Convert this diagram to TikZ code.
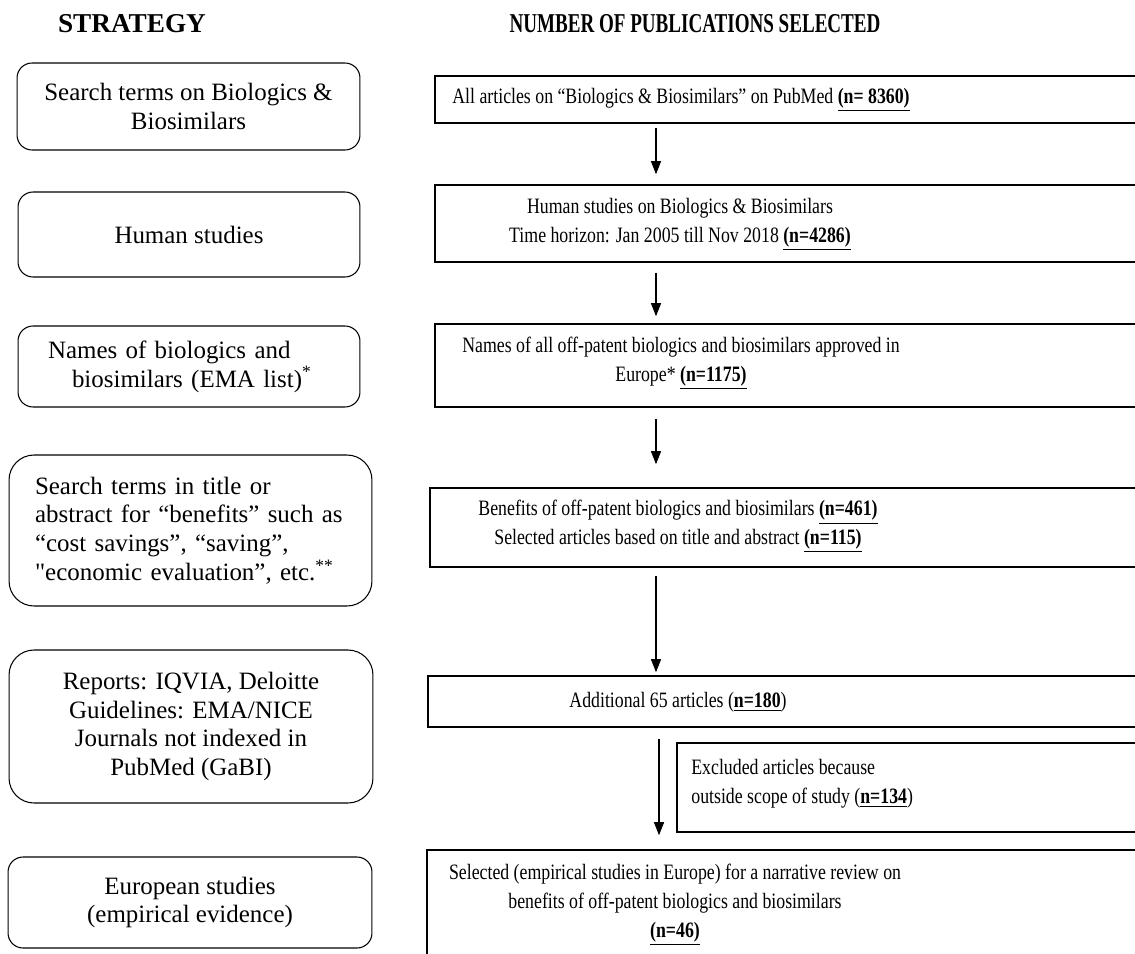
\documentclass[tikz,border=0pt]{standalone}
\usepackage{fontspec}
\setmainfont{Liberation Serif}[Ligatures=TeXOff]
\newfontfamily\narrowfont[FakeStretch=0.81]{Liberation Serif}
\newfontfamily\headfont[FakeStretch=0.70]{Liberation Serif}
\usetikzlibrary{arrows.meta}
\tikzstyle{strategy} = [rectangle, rounded corners=0.3cm, draw=black, line width=0.6pt, align=center, inner sep=0pt, font=\fontsize{14.2}{16.4}\selectfont]
\tikzstyle{selection} = [rectangle, draw=black, line width=0.9pt, inner sep=0pt]
\tikzstyle{count} = [align=center, inner sep=0pt, font=\narrowfont\fontsize{12.5}{16.4}\selectfont]
\tikzstyle{heading} = [font=\bfseries\fontsize{15.5}{18}\selectfont]
\tikzstyle{arrow} = [line width=0.6pt, -{Triangle[length=0.26cm, width=0.2cm]}]
\newcommand{\nsel}[1]{\underline{\textbf{#1}}}

\begin{document}
\begin{tikzpicture}[x=0.02cm, y=-0.02cm]
    \useasboundingbox (0,0) rectangle (1135,953);
    \clip (0,0) rectangle (1135,953);

    % Headings
    \node (strathead) [heading] at (132,24) {STRATEGY};
    \node (numhead) [heading, font=\headfont\bfseries\fontsize{15.5}{18}\selectfont] at (695,24) {NUMBER OF PUBLICATIONS SELECTED};

    % Nodes
    \node (terms) [strategy, minimum width=6.86cm, minimum height=1.74cm] at (188.5,106.5) {Search terms on Biologics \&\\Biosimilars};
    \node (human) [strategy, minimum width=6.84cm, minimum height=1.70cm] at (189,234.5) {Human studies};
    \node (names) [strategy, minimum width=6.84cm, minimum height=1.62cm, inner xsep=0.6cm, text width=5.64cm, align=left] at (189,366.5) {Names of biologics and\\\hspace*{0.48cm}biosimilars (EMA list)\textsuperscript{*}};
    \node (benefits) [strategy, rounded corners=0.5cm, minimum width=7.26cm, minimum height=3.02cm, inner xsep=0.52cm, text width=6.22cm, align=left] at (190.5,530.5) {Search terms in title or\\abstract for “benefits” such as\\“cost savings”, “saving”,\\"economic evaluation”, etc.\textsuperscript{**}};
    \node (reports) [strategy, rounded corners=0.5cm, minimum width=7.28cm, minimum height=3.06cm] at (191,726.5) {Reports: IQVIA, Deloitte\\Guidelines: EMA/NICE\\Journals not indexed in\\PubMed (GaBI)};
    \node (european) [strategy, minimum width=7.28cm, minimum height=1.82cm] at (190,902.5) {European studies\\(empirical evidence)};

    \node (allbox) [selection, minimum width=14.3cm, minimum height=0.94cm] at (792.5,99.5) {};
    \node (humanbox) [selection, minimum width=14.3cm, minimum height=1.54cm] at (792.5,223.5) {};
    \node (namesbox) [selection, minimum width=14.3cm, minimum height=1.66cm] at (792.5,365.5) {};
    \node (benefitsbox) [selection, minimum width=14.4cm, minimum height=1.58cm] at (790,527.5) {};
    \node (addbox) [selection, minimum width=14.44cm, minimum height=1.02cm] at (789,701.5) {};
    \node (exclbox) [selection, minimum width=9.46cm, minimum height=1.78cm] at (913.5,787.5) {};
    \node (finalbox) [selection, minimum width=14.46cm, minimum height=3.0cm] at (788.5,925) {};

    % Labels
    \node (alltext) [count] at (681,100) {All articles on “Biologics \& Biosimilars” on PubMed \nsel{(n= 8360)}};
    \node (humantext) [count] at (680,224.5) {Human studies on Biologics \& Biosimilars\\Time horizon: Jan 2005 till Nov 2018 \nsel{(n=4286)}};
    \node (namestext) [count] at (681,363) {Names of all off-patent biologics and biosimilars approved in\\Europe* \nsel{(n=1175)}};
    \node (benefitstext) [count] at (678,526.5) {Benefits of off-patent biologics and biosimilars \nsel{(n=461)}\\Selected articles based on title and abstract \nsel{(n=115)}};
    \node (addtext) [count] at (678,702) {Additional 65 articles (\nsel{n=180})};
    \node (excltext) [count, align=left, anchor=west] at (691,784) {Excluded articles because\\outside scope of study (\nsel{n=134})};
    \node (finaltext) [count] at (675,905) {Selected (empirical studies in Europe) for a narrative review on\\benefits of off-patent biologics and biosimilars\\\nsel{(n=46)}};

    % Arrows
    \coordinate (flow) at (656,0);
    \coordinate (flowlow) at (659,0);
    \draw [arrow, shorten <=0.08cm, shorten >=0.2cm] (allbox.south -| flow) -- (humanbox.north -| flow);
    \draw [arrow, shorten <=0.2cm, shorten >=0.14cm] (humanbox.south -| flow) -- (namesbox.north -| flow);
    \draw [arrow, shorten <=0.22cm, shorten >=0.46cm] (namesbox.south -| flow) -- (benefitsbox.north -| flow);
    \draw [arrow, shorten <=0.16cm, shorten >=0.06cm] (benefitsbox.south -| flow) -- (addbox.north -| flow);
    \draw [arrow, shorten <=0.22cm, shorten >=0.28cm] (addbox.south -| flowlow) -- (finalbox.north -| flowlow);

\end{tikzpicture}
\end{document}
